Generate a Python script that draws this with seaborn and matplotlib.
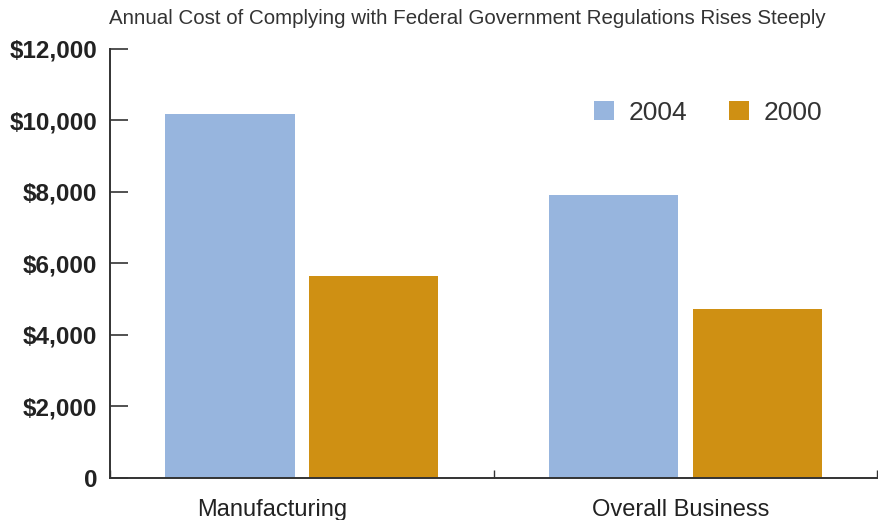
import numpy as np
import pandas as pd
import matplotlib
matplotlib.use("Agg")
import matplotlib.pyplot as plt
import seaborn as sns

# Data
categories = ["Manufacturing", "Overall Business"]
years = ["2004", "2000"]
cost_2004 = [10175, 7900]
cost_2000 = [5650, 4730]
y_ticks = [0, 2000, 4000, 6000, 8000, 10000, 12000]
y_tick_labels = ["0", "$2,000", "$4,000", "$6,000", "$8,000", "$10,000", "$12,000"]
title = "Annual Cost of Complying with Federal Government Regulations Rises Steeply"

color_2004 = "#97B5DE"
color_2000 = "#CF9013"
text_color = "#222222"

df = pd.DataFrame({
    "category": categories * 2,
    "year": [years[0]] * len(categories) + [years[1]] * len(categories),
    "cost": cost_2004 + cost_2000,
})

sns.set_style("white")
plt.rcParams["font.family"] = ["Liberation Sans", "DejaVu Sans"]

fig = plt.figure(figsize=(8.79, 5.2), dpi=100)
ax = fig.add_axes([0.125, 0.081, 0.873, 0.825])

sns.barplot(data=df, x="category", y="cost", hue="year", hue_order=years,
            palette=[color_2004, color_2000], width=0.75, gap=0.1,
            saturation=1, linewidth=0, edgecolor="none", ax=ax, legend=True)

# Axes and spines
ax.set_xlim(-0.5, 1.5)
ax.set_ylim(0, 12000)
for side in ["top", "right"]:
    ax.spines[side].set_visible(False)
for side in ["left", "bottom"]:
    ax.spines[side].set_color("#333333")
    ax.spines[side].set_linewidth(1.4)

ax.set_yticks(y_ticks)
ax.set_yticklabels(y_tick_labels, fontsize=17.5, fontweight="bold", color=text_color)
ax.tick_params(axis="y", direction="in", length=13, width=1.2, color="#333333", pad=9, left=True)

# category labels sit a little left of the bar groups in the original
ax.set_xticks([-0.076, 0.987])
ax.set_xticklabels(categories, fontsize=17, color=text_color)
ax.tick_params(axis="x", which="major", length=0, pad=15)
ax.set_xticks([-0.5, 0.5, 1.5], minor=True)
ax.tick_params(axis="x", which="minor", direction="in", length=6, width=1.0, color="#333333", bottom=True)

ax.set_xlabel("")
ax.set_ylabel("")
ax.grid(False)

# Legend
handles, labels = ax.get_legend_handles_labels()
ax.legend(handles, labels, loc="center right", bbox_to_anchor=(0.928, 0.851), ncol=2,
          frameon=False, fontsize=19, handlelength=0.75, handleheight=0.75,
          handletextpad=0.55, columnspacing=1.6, borderpad=0, borderaxespad=0,
          labelcolor="#333333")

fig.text(0.532, 0.965, title, ha="center", va="center", fontsize=14.8, color="#333333")

fig.savefig("out.png", dpi=100)
